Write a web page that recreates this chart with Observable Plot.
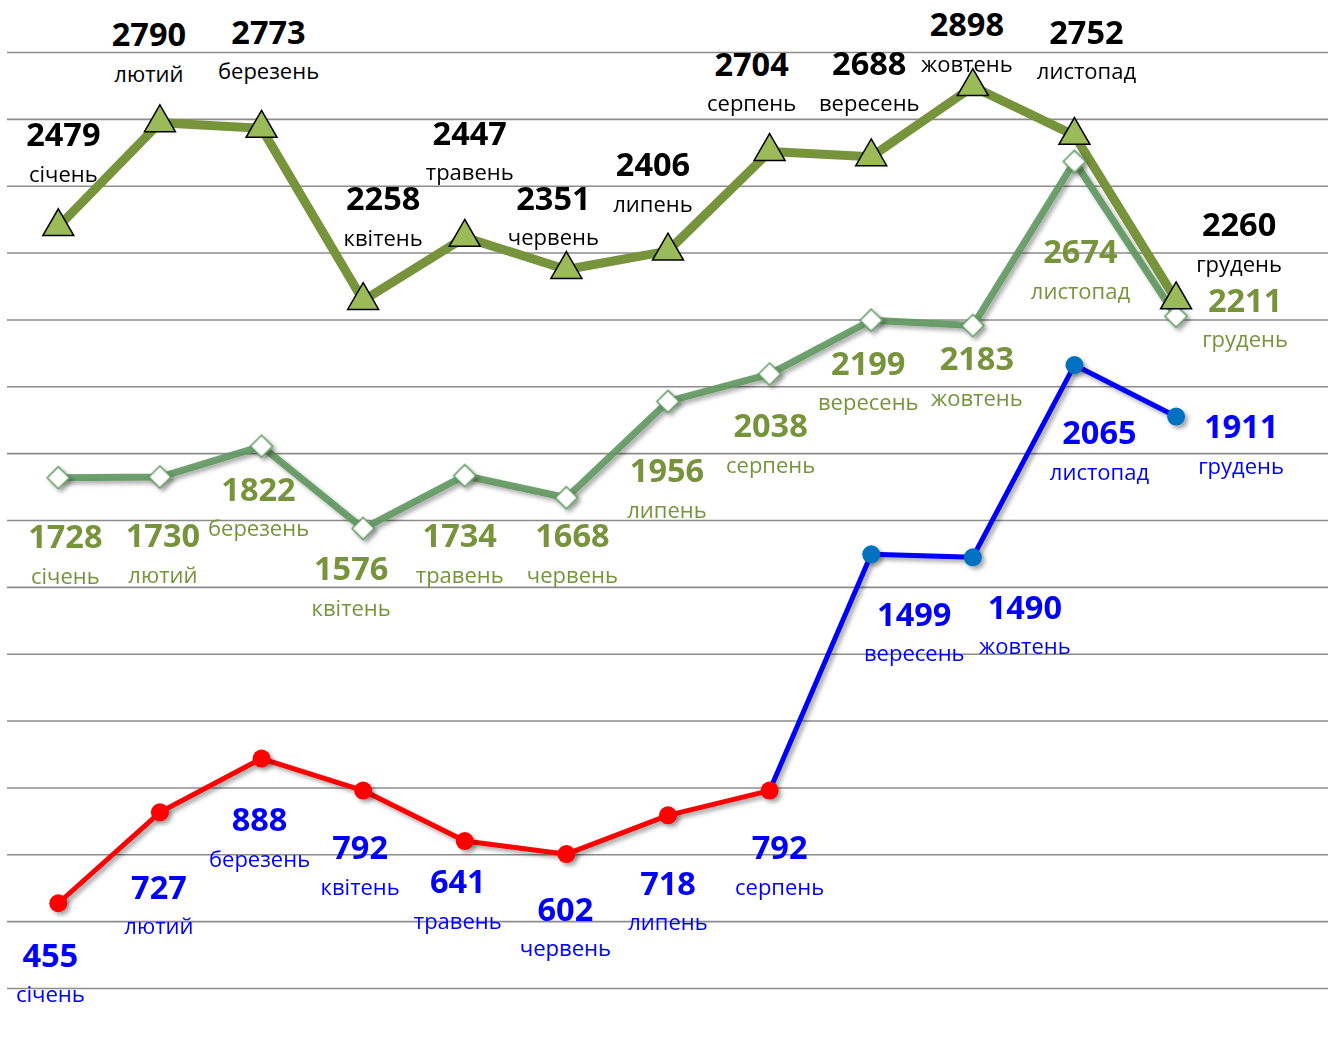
<!DOCTYPE html>
<html>
<head>
<meta charset="utf-8">
<script src="https://cdn.jsdelivr.net/npm/d3@7"></script>
<script src="https://cdn.jsdelivr.net/npm/@observablehq/plot@0.6"></script>
<style>
  html, body { margin: 0; padding: 0; background: #ffffff; }
  #chart svg { display: block; }
</style>
</head>
<body>
<div id="chart"></div>
<script>
// ---- data ----
const months = ["січень","лютий","березень","квітень","травень","червень","липень","серпень","вересень","жовтень","листопад","грудень"];
const topValues = [2479, 2790, 2773, 2258, 2447, 2351, 2406, 2704, 2688, 2898, 2752, 2260];
const midValues = [1728, 1730, 1822, 1576, 1734, 1668, 1956, 2038, 2199, 2183, 2674, 2211];
const lowValues = [455, 727, 888, 792, 641, 602, 718, 792, 1499, 1490, 2065, 1911];
const gridValues = [200, 400, 600, 800, 1000, 1200, 1400, 1600, 1800, 2000, 2200, 2400, 2600, 2800, 3000];

// ---- label placement (pixel offsets of the value label from its point) ----
const topLabelOffset = [[5,-91],[-11,-87],[7,-95],[20,-101],[5,-103],[-13,-70],[-15,-85],[-18,-86],[-2,-92],[-6,-61],[12,-102],[63,-74]];
const midLabelOffset = [[7,60],[3,60],[-3,44],[-12,41],[-5,61],[6,39],[-1,70],[1,53],[-3,44],[4,34],[6,91],[69,-15]];
const lowLabelOffset = [[-8,53],[-1,76],[-2,62],[-3,58],[-7,42],[-1,56],[0,69],[10,58],[43,61],[52,51],[25,69],[65,11]];

const rows = vals => vals.map((v, i) => ({i, v, m: months[i]}));
const topRows = rows(topValues);
const midRows = rows(midValues);
const lowRows = rows(lowValues);
const redRows = lowRows.slice(0, 8);
const blueRows = lowRows.slice(7);

const FONT = "'Open Sans', 'Noto Sans', sans-serif";
const valueSize = 32.5, monthSize = 22, monthGap = 39;

function labels(data, offsets, valueColor, monthColor) {
  const out = [];
  data.forEach((d, k) => {
    const [dx, dy] = offsets[k];
    out.push(Plot.text([d], {x: "i", y: "v", text: d => String(d.v), dx, dy,
      fill: valueColor, fontSize: valueSize, fontWeight: "bold", lineAnchor: "middle", textAnchor: "middle"}));
    out.push(Plot.text([d], {x: "i", y: "v", text: "m", dx, dy: dy + monthGap,
      fill: monthColor, fontSize: monthSize, lineAnchor: "middle", textAnchor: "middle"}));
  });
  return out;
}

const chart = Plot.plot({
  width: 1333,
  height: 1048,
  marginLeft: 7,
  marginRight: 5,
  marginTop: 52,
  marginBottom: 60,
  style: {fontFamily: FONT, background: "#ffffff"},
  x: {domain: [-0.5, 12.5], axis: null},
  y: {domain: [200, 3000], axis: null},
  marks: [
    Plot.ruleY(gridValues, {stroke: "#8c8c8c", strokeWidth: 1.6}),
    Plot.line(midRows, {x: "i", y: "v", stroke: "#5f975f", strokeOpacity: 0.9, strokeWidth: 7, strokeLinejoin: "round"}),
    Plot.line(topRows, {x: "i", y: "v", stroke: "#77933C", strokeWidth: 9, strokeLinejoin: "round"}),
    Plot.dot(midRows, {x: "i", y: "v", symbol: "diamond2", r: 10, fill: "#ffffff", stroke: "#5f975f", strokeWidth: 1.5}),
    Plot.dot(topRows, {x: "i", y: "v", symbol: "triangle", r: 11.5, fill: "#9BBB59", stroke: "#000000", strokeWidth: 1.5}),
    Plot.line(blueRows, {x: "i", y: "v", stroke: "#0000FF", strokeWidth: 5, strokeLinejoin: "round"}),
    Plot.line(redRows, {x: "i", y: "v", stroke: "#FF0000", strokeWidth: 5, strokeLinejoin: "round"}),
    Plot.dot(lowRows.slice(8), {x: "i", y: "v", r: 9, fill: "#0070C0"}),
    Plot.dot(redRows, {x: "i", y: "v", r: 9, fill: "#FF0000"}),
    ...labels(topRows, topLabelOffset, "#000000", "#000000"),
    ...labels(midRows, midLabelOffset, "#77933C", "#77933C"),
    ...labels(lowRows, lowLabelOffset, "#0000FF", "#0000FF")
  ]
});

// soft drop shadow like the original
const svg = d3.select(chart);
const defs = svg.insert("defs", ":first-child");
const f = defs.append("filter").attr("id", "shadow").attr("x", "-20%").attr("y", "-20%").attr("width", "140%").attr("height", "140%");
f.append("feDropShadow").attr("dx", 3).attr("dy", 3).attr("stdDeviation", 2).attr("flood-color", "#000").attr("flood-opacity", 0.35);
const lineGroups = svg.selectAll('g[aria-label="line"]').nodes();
[0, 2, 3].forEach(k => lineGroups[k] && lineGroups[k].setAttribute("filter", "url(#shadow)"));
const dotGroups = svg.selectAll('g[aria-label="dot"]').nodes();
[0, 2, 3].forEach(k => dotGroups[k] && dotGroups[k].setAttribute("filter", "url(#shadow)"));

document.getElementById("chart").appendChild(chart);
</script>
</body>
</html>
